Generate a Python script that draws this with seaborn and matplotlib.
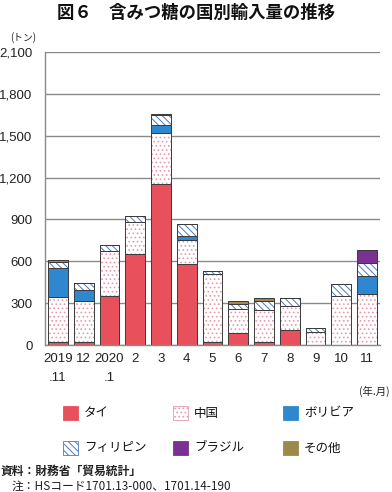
import matplotlib
matplotlib.use("Agg")
import matplotlib.pyplot as plt
import seaborn as sns
import numpy as np
import pandas as pd
from matplotlib.colors import to_rgba
from matplotlib.patches import Rectangle

# ---- data (tons) ----
months = ["2019\n.11", "12", "2020\n.1", "2", "3", "4", "5", "6", "7", "8", "9", "10", "11"]
thai        = [21, 21, 351, 651, 1157, 580, 20, 88, 21, 107, 0, 0, 0]
china       = [320, 292, 324, 227, 366, 172, 486, 170, 227, 170, 91, 348, 368]
bolivia     = [208, 81, 0, 0, 52, 31, 0, 0, 0, 0, 0, 0, 128]
philippines = [43, 48, 39, 43, 72, 81, 22, 38, 65, 57, 33, 89, 89]
brazil      = [0, 0, 0, 0, 0, 0, 0, 0, 0, 0, 0, 0, 93]
other       = [16, 0, 0, 0, 7, 0, 0, 19, 21, 0, 0, 0, 0]

series_names = ["タイ", "中国", "ボリビア", "フィリピン", "ブラジル", "その他"]
series_vals = [thai, china, bolivia, philippines, brazil, other]
yticks = [0, 300, 600, 900, 1200, 1500, 1800, 2100]

# style per series: facecolor, hatch, hatchcolor
styles = {
    "タイ": ("#E8505B", None, None),
    "中国": ("white", "....", "#E79AAE"),
    "ボリビア": ("#2F88CF", None, None),
    "フィリピン": ("white", "\\\\\\\\\\", "#4E78C4"),
    "ブラジル": ("#7A3193", None, None),
    "その他": ("#9C8A48", None, None),
}

sns.set_theme(style="white")
plt.rcParams["font.family"] = ["Noto Sans CJK JP", "DejaVu Sans"]
plt.rcParams["hatch.linewidth"] = 0.7
NUMFONT = ["Liberation Sans", "DejaVu Sans"]

W, H = 392, 492
fig = plt.figure(figsize=(W / 100, H / 100), dpi=100)
ax = fig.add_axes([45 / W, 1 - 345 / H, (380 - 45) / W, (345 - 52) / H])

edge_dark = "#3a3a3a"
bottom = np.zeros(len(months))
for name, vals in zip(series_names, series_vals):
    fc, hatch, hc = styles[name]
    df = pd.DataFrame({"month": months, "value": vals})
    n0 = len(ax.patches)
    kw = {}
    if hatch:
        kw["hatch"] = hatch
    sns.barplot(data=df, x="month", y="value", order=months, bottom=bottom,
                color=fc, saturation=1, width=0.77, errorbar=None,
                edgecolor=edge_dark, linewidth=0.7, ax=ax, **kw)
    if hc:
        for p in ax.patches[n0:]:
            p._hatch_color = to_rgba(hc)
            p.stale = True
    bottom = bottom + np.array(vals)

ax.set_xlim(-0.5, len(months) - 0.5)
ax.set_ylim(0, 2100)
ax.set_yticks(yticks)
ax.set_yticklabels([f"{v:,}" for v in yticks], fontsize=9.5, family=NUMFONT)
ax.yaxis.grid(True, color="#8a8a8a", linewidth=1.0)
ax.set_axisbelow(True)
ax.set_xlabel("")
ax.set_ylabel("")
for s in ["top", "right"]:
    ax.spines[s].set_visible(False)
for s in ["left", "bottom"]:
    ax.spines[s].set_color("#8a8a8a")
    ax.spines[s].set_linewidth(1.0)
ax.tick_params(axis="y", length=0, pad=9, colors="#222222")
ax.tick_params(axis="x", which="major", length=0, pad=6, colors="#222222")
for t in ax.get_xticklabels():
    t.set_linespacing(1.7)
    t.set_family(NUMFONT)
    t.set_fontsize(9.5)
ax.set_xticks(np.arange(-0.5, len(months), 1.0), minor=True)
ax.tick_params(axis="x", which="minor", length=5, width=0.8, color="#8a8a8a", direction="out")

# ---- texts ----
def fx(px):
    return px / W

def fy(py):
    return 1 - py / H

fig.text(0.5, fy(13), "図６　含みつ糖の国別輸入量の推移", ha="center", va="center",
         fontsize=12.5, fontweight="bold", color="#111111")
fig.text(fx(10), fy(38), "(トン)", ha="left", va="center", fontsize=7, color="#222222")
fig.text(fx(390), fy(391), "(年.月)", ha="right", va="center", fontsize=7.5, color="#222222")

# ---- legend ----
cols_x = [63, 173, 283]
rows_y = [413, 448]
for i, name in enumerate(series_names):
    fc, hatch, hc = styles[name]
    cx = cols_x[i % 3]
    cy = rows_y[i // 3]
    rect = Rectangle((fx(cx), fy(cy + 7)), 15 / W, 14 / H, transform=fig.transFigure,
                     facecolor=fc, edgecolor=(hc if hc else fc), linewidth=0.6,
                     hatch=hatch)
    fig.patches.append(rect)
    fig.text(fx(cx + 21), fy(cy), name, ha="left", va="center", fontsize=9, color="#111111")

fig.text(fx(1), fy(471), "資料：財務省「貿易統計」", ha="left", va="center",
         fontsize=8.5, fontweight="bold", color="#222222")
fig.text(fx(12), fy(486), "注：HSコード1701.13-000、1701.14-190", ha="left", va="center",
         fontsize=8.5, color="#222222")

fig.savefig("out.png", dpi=100)
